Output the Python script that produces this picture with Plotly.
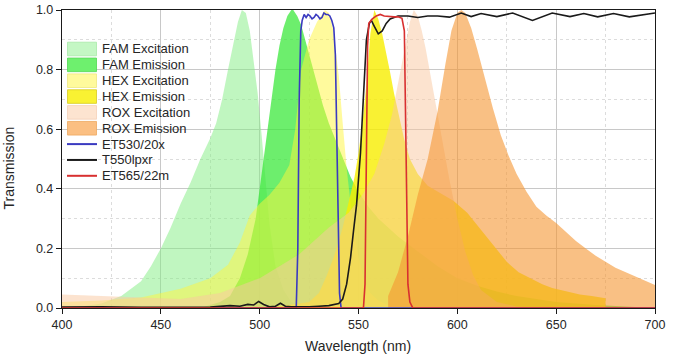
import plotly.graph_objects as go

# ---------------- data ----------------
fam_ex_wl = [400, 410, 420, 430, 440, 445, 450, 455, 460, 465, 470, 475, 478, 481, 484, 487, 489, 491, 493, 495, 497, 499, 501, 503, 505, 508, 512, 516, 520, 530]
fam_ex_val = [0.0, 0.005, 0.015, 0.04, 0.09, 0.14, 0.2, 0.27, 0.35, 0.42, 0.5, 0.57, 0.62, 0.7, 0.8, 0.9, 0.96, 1.0, 0.99, 0.93, 0.83, 0.72, 0.58, 0.42, 0.28, 0.14, 0.06, 0.02, 0.01, 0.0]

fam_em_wl = [470, 480, 485, 490, 494, 498, 500, 502, 504, 506, 508, 510, 512, 514, 516, 517, 519, 521, 523, 526, 529, 532, 535, 538, 542, 546, 550, 555, 560, 570, 580, 590, 600, 610, 620, 630, 640, 650, 670, 700]
fam_em_val = [0.0, 0.02, 0.04, 0.1, 0.18, 0.3, 0.4, 0.5, 0.6, 0.7, 0.8, 0.88, 0.94, 0.98, 1.0, 1.0, 0.98, 0.95, 0.9, 0.83, 0.75, 0.68, 0.62, 0.57, 0.5, 0.44, 0.39, 0.34, 0.3, 0.24, 0.19, 0.14, 0.1, 0.075, 0.055, 0.04, 0.03, 0.02, 0.01, 0.0]

hex_ex_wl = [400, 420, 440, 460, 475, 484, 490, 495, 500, 505, 510, 515, 518, 521, 525, 529, 533, 535, 537, 539, 540, 542, 544, 546, 548, 550, 553, 556, 560, 565, 570, 580]
hex_ex_val = [0.02, 0.025, 0.035, 0.065, 0.1, 0.145, 0.22, 0.31, 0.35, 0.38, 0.42, 0.48, 0.6, 0.8, 0.9, 0.96, 1.0, 0.99, 0.94, 0.84, 0.78, 0.62, 0.47, 0.35, 0.25, 0.17, 0.09, 0.05, 0.025, 0.01, 0.005, 0.0]

hex_em_wl = [500, 515, 525, 530, 534, 538, 542, 545, 548, 550, 552, 554, 556, 558, 560, 562, 564, 566, 568, 570, 573, 576, 580, 585, 590, 598, 605, 611, 618, 625, 631, 637, 643, 648, 655, 662, 668, 675]
hex_em_val = [0.0, 0.01, 0.02, 0.05, 0.11, 0.18, 0.27, 0.35, 0.44, 0.52, 0.62, 0.75, 0.92, 1.0, 0.97, 0.92, 0.86, 0.79, 0.72, 0.66, 0.57, 0.5, 0.45, 0.41, 0.39, 0.36, 0.32, 0.27, 0.21, 0.155, 0.12, 0.1, 0.08, 0.067, 0.055, 0.045, 0.04, 0.033]

rox_ex_wl = [400, 420, 440, 460, 480, 500, 520, 535, 545, 552, 558, 563, 567, 570, 573, 576, 578, 580, 582, 584, 587, 590, 593, 596, 600, 604, 608, 612, 620, 630, 640]
rox_ex_val = [0.045, 0.04, 0.035, 0.03, 0.05, 0.1, 0.18, 0.27, 0.32, 0.38, 0.45, 0.55, 0.65, 0.75, 0.86, 0.96, 1.0, 0.98, 0.93, 0.87, 0.76, 0.65, 0.54, 0.43, 0.3, 0.19, 0.11, 0.06, 0.02, 0.005, 0.0]

rox_em_wl = [565, 570, 575, 580, 585, 590, 594, 597, 600, 602, 604, 607, 610, 614, 618, 622, 626, 630, 635, 640, 645, 650, 655, 660, 665, 670, 680, 690, 700]
rox_em_val = [0.04, 0.12, 0.24, 0.38, 0.5, 0.66, 0.82, 0.93, 0.99, 1.0, 0.99, 0.94, 0.87, 0.77, 0.67, 0.58, 0.51, 0.45, 0.39, 0.34, 0.31, 0.285, 0.255, 0.225, 0.2, 0.175, 0.135, 0.105, 0.077]

et530_wl = [400, 518.5, 519.3, 520.0, 520.8, 521.5, 522.5, 523.5, 524.5, 525.5, 526.5, 527.5, 528.5, 529.5, 530.5, 531.5, 532.5, 533.5, 534.5, 535.5, 536.5, 537.5, 538.3, 539.0, 539.7, 540.4, 541.2, 700]
et530_val = [0.0, 0.0, 0.2, 0.7, 0.93, 0.965, 0.985, 0.975, 0.985, 0.98, 0.97, 0.975, 0.985, 0.98, 0.97, 0.975, 0.99, 0.985, 0.985, 0.98, 0.965, 0.94, 0.85, 0.6, 0.25, 0.05, 0.0, 0.0]

t550_wl = [400, 420, 440, 460, 475, 485, 490, 494, 497, 499.5, 502, 505, 508, 510.5, 513, 516, 520, 525, 530, 535, 540, 542, 544, 546, 547.5, 549, 551, 552.5, 554, 555.5, 556.5, 558, 560, 562, 564, 566, 570, 575, 580, 585, 590, 596, 602, 607, 612, 620, 628, 638, 648, 657, 664, 671, 679, 687, 694, 700]
t550_val = [0.003, 0.004, 0.002, 0.004, 0.003, 0.008, 0.006, 0.012, 0.01, 0.022, 0.012, 0.004, 0.006, 0.016, 0.006, 0.004, 0.003, 0.004, 0.006, 0.008, 0.015, 0.03, 0.08, 0.17, 0.26, 0.345, 0.52, 0.72, 0.9, 0.955, 0.965, 0.945, 0.92, 0.93, 0.955, 0.97, 0.98, 0.98, 0.975, 0.98, 0.98, 0.976, 0.99, 0.978, 0.988, 0.978, 0.99, 0.965, 0.99, 0.978, 0.988, 0.977, 0.988, 0.977, 0.985, 0.99]

et565_wl = [400, 552.5, 553.3, 554.0, 554.6, 555.2, 557, 559, 561, 563, 565, 568, 570, 572, 573.2, 573.8, 574.4, 575.0, 576.0, 577.5, 700]
et565_val = [0.0, 0.0, 0.08, 0.5, 0.88, 0.955, 0.97, 0.98, 0.985, 0.98, 0.978, 0.977, 0.977, 0.972, 0.93, 0.6, 0.25, 0.08, 0.02, 0.0, 0.0]

x_ticks = [400, 450, 500, 550, 600, 650, 700]
y_ticks = [0.0, 0.2, 0.4, 0.6, 0.8, 1.0]

# ---------------- styles ----------------
areas = [
    ("FAM Excitation", fam_ex_wl, fam_ex_val, "rgba(130,238,130,0.5)", "#c4f7c4", "#a8eaa8"),
    ("FAM Emission", fam_em_wl, fam_em_val, "rgba(60,232,60,0.75)", "#6ef06e", "#50d850"),
    ("HEX Excitation", hex_ex_wl, hex_ex_val, "rgba(255,245,60,0.5)", "#fffa9c", "#f0e880"),
    ("HEX Emission", hex_em_wl, hex_em_val, "rgba(248,238,0,0.8)", "#f9f232", "#d8cc20"),
    ("ROX Excitation", rox_ex_wl, rox_ex_val, "rgba(250,200,160,0.5)", "#fde4d0", "#f5d0b8"),
    ("ROX Emission", rox_em_wl, rox_em_val, "rgba(245,150,50,0.6)", "#fbbf82", "#eea860"),
]
lines = [
    ("ET530/20x", et530_wl, et530_val, "#3a3ac0"),
    ("T550lpxr", t550_wl, t550_val, "#1a1a1a"),
    ("ET565/22m", et565_wl, et565_val, "#d83030"),
]

FONT = "Liberation Sans, Arial, Helvetica, sans-serif"
W, H = 679, 363
PL, PT, PR, PB = 62, 10, 655, 308   # plot area in page pixels
L, T, R, B = PL, PT, W - PR, H - PB
PW, PH = PR - PL, PB - PT


def px(x):
    return (x - PL) / PW


def py(y):
    return (PB - y) / PH


fig = go.Figure()
for name, wl, v, c, _, _ in areas:
    fig.add_trace(go.Scatter(x=wl, y=v, mode="lines", name=name, line=dict(width=0, color=c),
                             fill="tozeroy", fillcolor=c, showlegend=False, hoverinfo="skip"))
for name, wl, v, c in lines:
    fig.add_trace(go.Scatter(x=wl, y=v, mode="lines", name=name, line=dict(width=1.6, color=c),
                             showlegend=False))

# manual legend (to match the compact row spacing)
shapes = []
annotations = []
row0, step = 49.0, 15.85
names = [a[0] for a in areas] + [l[0] for l in lines]
for i, name in enumerate(names):
    cy = row0 + i * step
    if i < len(areas):
        _, _, _, _, solid, edge = areas[i]
        shapes.append(dict(type="rect", xref="paper", yref="paper",
                           x0=px(67.5), x1=px(96.5), y0=py(cy + 6.8), y1=py(cy - 6.8),
                           fillcolor=solid, line=dict(color=edge, width=0.8), layer="above"))
    else:
        c = lines[i - len(areas)][3]
        shapes.append(dict(type="line", xref="paper", yref="paper",
                           x0=px(67), x1=px(97), y0=py(cy), y1=py(cy),
                           line=dict(color=c, width=2), layer="above"))
    annotations.append(dict(text=name, xref="paper", yref="paper", x=px(100), y=py(cy),
                            xanchor="left", yanchor="middle", showarrow=False,
                            font=dict(family=FONT, size=13, color="#262626")))

annotations.append(dict(text="Wavelength (nm)", xref="paper", yref="paper", x=px(358), y=py(346),
                        xanchor="center", yanchor="middle", showarrow=False,
                        font=dict(family=FONT, size=14, color="#262626")))
annotations.append(dict(text="Transmission", xref="paper", yref="paper", x=px(8.5), y=py(168),
                        xanchor="center", yanchor="middle", showarrow=False, textangle=-90,
                        font=dict(family=FONT, size=14, color="#262626")))

axis_common = dict(showline=True, linecolor="#1a1a1a", linewidth=1.4, mirror=True,
                   ticks="outside", ticklen=5, tickwidth=1, tickcolor="#1a1a1a",
                   showgrid=True, gridcolor="#c8c8c8", gridwidth=1, zeroline=False,
                   ticklabeloverflow="allow",
                   tickfont=dict(family=FONT, size=12.5, color="#262626"))

fig.update_layout(
    width=W, height=H,
    margin=dict(l=L, r=R, t=T, b=B, autoexpand=False),
    paper_bgcolor="white", plot_bgcolor="white",
    showlegend=False,
    shapes=shapes, annotations=annotations,
    xaxis=dict(range=[400, 700], tickvals=x_ticks, ticktext=[str(v) for v in x_ticks],
               minor=dict(dtick=25, tick0=400, showgrid=True, gridcolor="#dcdcdc", griddash="dot", ticks=""),
               **axis_common),
    yaxis=dict(range=[0, 1.0], tickvals=y_ticks, ticktext=[f"{v:.1f}" for v in y_ticks],
               minor=dict(dtick=0.1, tick0=0, showgrid=True, gridcolor="#dcdcdc", griddash="dot", ticks=""),
               **axis_common),
)

# the browser's default 8px body margin would shift the figure; remove it
fig.write_html("out.html", config={"displayModeBar": False},
               post_script="document.body.style.margin='0';")
